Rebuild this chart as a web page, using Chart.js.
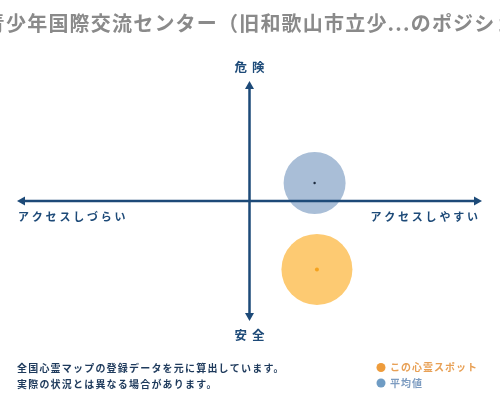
<!DOCTYPE html>
<html lang="ja">
<head>
<meta charset="utf-8">
<title>ポジション</title>
<script src="https://cdn.jsdelivr.net/npm/chart.js@4/dist/chart.umd.min.js"></script>
<style>
    html, body { margin: 0; padding: 0; background: #fff; }
    #wrap { position: relative; width: 500px; height: 400px; overflow: hidden; }
</style>
</head>
<body>
<div id="wrap"><canvas id="chart"></canvas></div>
<script>
// ═══════════════════════════════════════════════════════════
//  Data
// ═══════════════════════════════════════════════════════════

var seriesNames = ['この心霊スポット', '平均値'];
var accessValues = [0.29, 0.28];      // x: アクセスしづらい(-1) … アクセスしやすい(+1)
var dangerValues = [-0.57, 0.15];     // y: 安全(-1) … 危険(+1)
var spreadValues = [35.5, 31];        // bubble radius

var titleText = '和歌山市青少年国際交流センター（旧和歌山市立少...のポジション';
var axisLabels = { top: '危 険', bottom: '安 全', left: 'アクセスしづらい', right: 'アクセスしやすい' };
var noteLines = ['全国心霊マップの登録データを元に算出しています。', '実際の状況とは異なる場合があります。'];

// ═══════════════════════════════════════════════════════════
//  Colours / fonts
// ═══════════════════════════════════════════════════════════

var AXIS_COLOR = '#1d4a78';
var FONT = "'Noto Sans CJK JP', 'Noto Sans', sans-serif";
var spotFill = '#fdca72', spotDot = '#f5a21e', spotLegend = '#ee9c3c', spotText = '#e8a055';
var avgFill = '#a9bed7', avgDot = '#1c2b3f', avgLegend = '#6f9cc4', avgText = '#7d9cc1';

// text drawn with letter spacing, centred, left or right aligned
function spacedText(ctx, text, x, y, font, color, spacing, align) {
    ctx.save();
    ctx.font = font;
    ctx.fillStyle = color;
    ctx.textBaseline = 'middle';
    ctx.textAlign = 'left';
    ctx.letterSpacing = spacing + 'px';
    var w = ctx.measureText(text).width - spacing;
    var left = x;
    if (align === 'center') left = x - w / 2;
    if (align === 'right') left = x - w;
    ctx.fillText(text, left, y);
    ctx.restore();
}

function arrowHead(ctx, x, y, dx, dy) {
    var len = 8, half = 4.5;
    ctx.beginPath();
    ctx.moveTo(x, y);
    ctx.lineTo(x - dx * len - dy * half, y - dy * len + dx * half);
    ctx.lineTo(x - dx * len + dy * half, y - dy * len - dx * half);
    ctx.closePath();
    ctx.fill();
}

// ═══════════════════════════════════════════════════════════
//  Plugin: cross axes, labels, title, notes, legend
// ═══════════════════════════════════════════════════════════

var positionMapPlugin = {
    id: 'positionMap',
    afterDatasetsDraw: function (chart) {
        var ctx = chart.ctx;
        var xs = chart.scales.x, ys = chart.scales.y;
        var area = chart.chartArea;
        var cx = xs.getPixelForValue(0);
        var cy = ys.getPixelForValue(0);

        ctx.save();
        ctx.strokeStyle = AXIS_COLOR;
        ctx.fillStyle = AXIS_COLOR;
        ctx.lineWidth = 2.5;
        ctx.beginPath();
        ctx.moveTo(area.left + 4, cy);
        ctx.lineTo(area.right - 4, cy);
        ctx.moveTo(cx, area.top + 4);
        ctx.lineTo(cx, area.bottom - 4);
        ctx.stroke();
        arrowHead(ctx, area.left, cy, -1, 0);
        arrowHead(ctx, area.right, cy, 1, 0);
        arrowHead(ctx, cx, area.top, 0, -1);
        arrowHead(ctx, cx, area.bottom, 0, 1);
        ctx.restore();

        var labelFont = 'bold 11px ' + FONT;
        spacedText(ctx, axisLabels.top, cx, area.top - 14, 'bold 12.5px ' + FONT, AXIS_COLOR, 1, 'center');
        spacedText(ctx, axisLabels.bottom, cx, area.bottom + 14, 'bold 12.5px ' + FONT, AXIS_COLOR, 1, 'center');
        spacedText(ctx, axisLabels.left, area.left + 1, cy + 16, labelFont, AXIS_COLOR, 2.8, 'left');
        spacedText(ctx, axisLabels.right, area.right - 4, cy + 16, labelFont, AXIS_COLOR, 2.8, 'right');

        // title, overflowing the canvas on both sides
        ctx.save();
        ctx.font = 'bold 20px ' + FONT;
        ctx.letterSpacing = '1.2px';
        var lead = ctx.measureText('和歌山市青').width;
        ctx.restore();
        spacedText(ctx, titleText, 6 - lead, 23, 'bold 20px ' + FONT, '#8a8a8a', 1.2, 'left');

        // footnote
        spacedText(ctx, noteLines[0], 17, 368, 'bold 10px ' + FONT, '#1e3a5c', 1.2, 'left');
        spacedText(ctx, noteLines[1], 17, 384, 'bold 10px ' + FONT, '#1e3a5c', 1.2, 'left');

        // legend
        var legend = [
            { name: seriesNames[0], dot: spotLegend, text: spotText, y: 367.5 },
            { name: seriesNames[1], dot: avgLegend, text: avgText, y: 383 }
        ];
        legend.forEach(function (item) {
            ctx.save();
            ctx.fillStyle = item.dot;
            ctx.beginPath();
            ctx.arc(381, item.y, 4.5, 0, Math.PI * 2);
            ctx.fill();
            ctx.restore();
            spacedText(ctx, item.name, 390, item.y, 'bold 10px ' + FONT, item.text, 1, 'left');
        });
    }
};

// ═══════════════════════════════════════════════════════════
//  Chart
// ═══════════════════════════════════════════════════════════

function point(i, r) {
    return [{ x: accessValues[i], y: dangerValues[i], r: r }];
}

new Chart(document.getElementById('chart').getContext('2d'), {
    type: 'bubble',
    data: {
        datasets: [
            { label: seriesNames[0] + ' 中心', data: point(0, 2), backgroundColor: spotDot, borderWidth: 0, order: 0 },
            { label: seriesNames[1] + ' 中心', data: point(1, 1.2), backgroundColor: avgDot, borderWidth: 0, order: 0 },
            { label: seriesNames[0], data: point(0, spreadValues[0]), backgroundColor: spotFill, borderWidth: 0, order: 1 },
            { label: seriesNames[1], data: point(1, spreadValues[1]), backgroundColor: avgFill, borderWidth: 0, order: 1 }
        ]
    },
    options: {
        responsive: true,
        maintainAspectRatio: false,
        animation: false,
        layout: { autoPadding: false, padding: { left: 17, right: 18, top: 81, bottom: 79 } },
        scales: {
            x: { display: false, min: -1, max: 1 },
            y: { display: false, min: -1, max: 1 }
        },
        plugins: {
            legend: { display: false },
            title: { display: false },
            tooltip: { enabled: false }
        }
    },
    plugins: [positionMapPlugin]
});
</script>
</body>
</html>
